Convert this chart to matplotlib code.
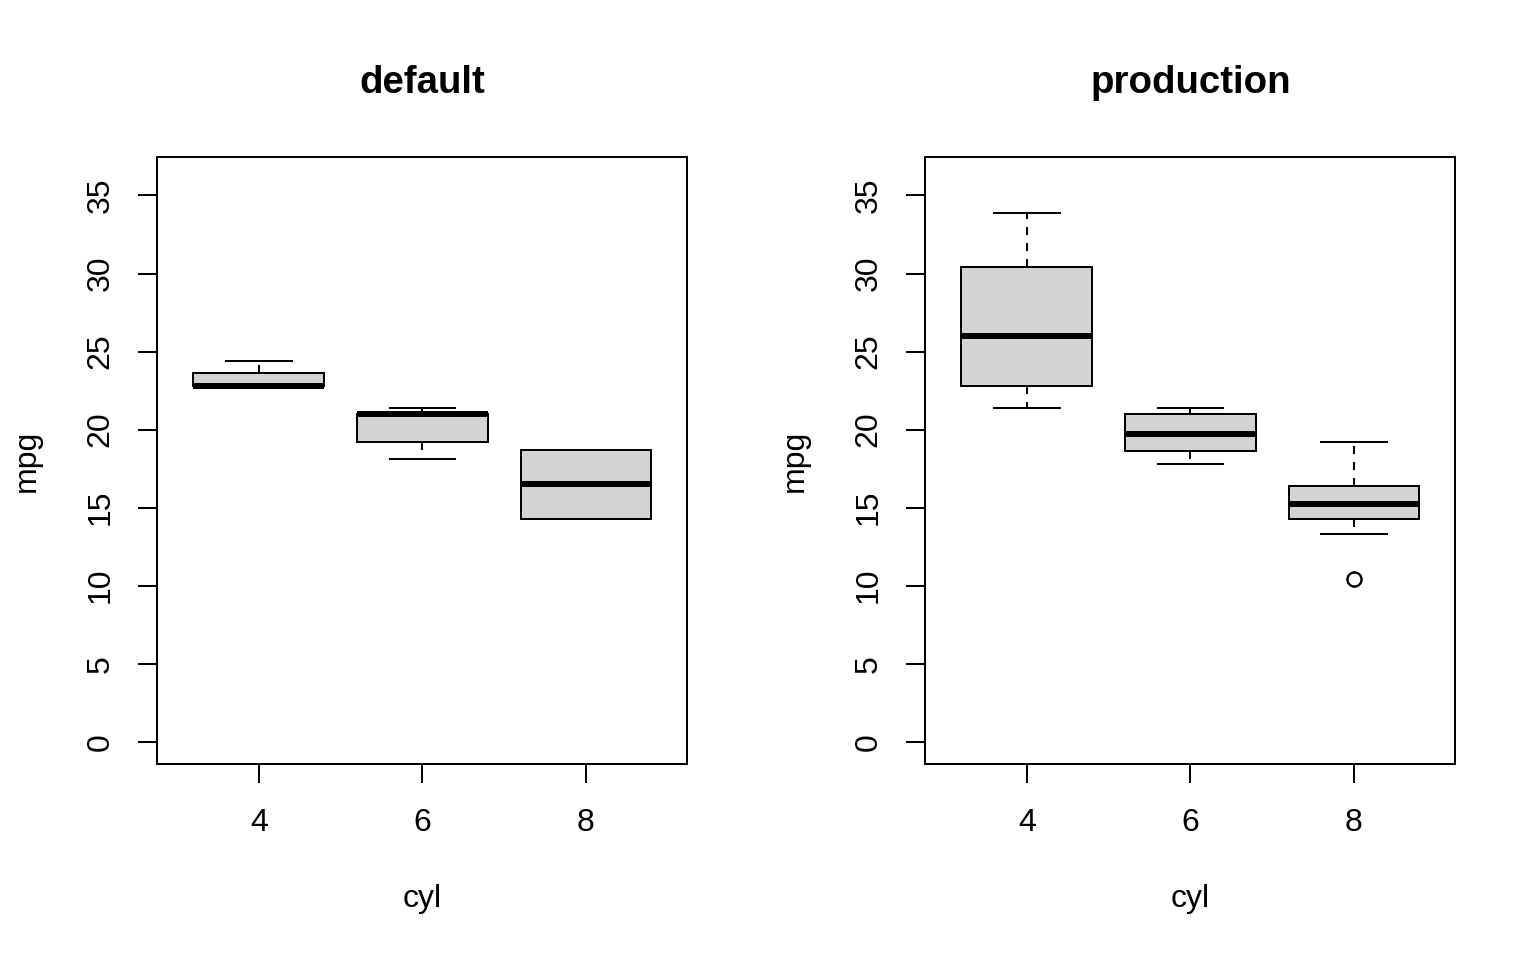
import matplotlib
matplotlib.use("Agg")
import matplotlib.pyplot as plt

plt.rcParams['font.family'] = ['Liberation Sans', 'DejaVu Sans']

# ---- data (five-number summaries) ----
cyl_labels = ['4', '6', '8']
positions = [1, 2, 3]
yticks = [0, 5, 10, 15, 20, 25, 30, 35]

default_whislo = [22.8, 18.1, 14.3]
default_q1 = [22.8, 19.2, 14.3]
default_med = [22.8, 21.0, 16.5]
default_q3 = [23.6, 21.0, 18.7]
default_whishi = [24.4, 21.4, 18.7]
default_fliers = [[], [], []]

prod_whislo = [21.4, 17.8, 13.3]
prod_q1 = [22.8, 18.65, 14.3]
prod_med = [26.0, 19.7, 15.2]
prod_q3 = [30.4, 21.0, 16.4]
prod_whishi = [33.9, 21.4, 19.2]
prod_fliers = [[], [], [10.4, 10.4]]

panel_titles = ['default', 'production']

# ---- figure ----
W, H, DPI = 1536, 960, 192
fig = plt.figure(figsize=(W / DPI, H / DPI), dpi=DPI)

LW = 0.75  # R lwd=1


def make_stats(lo, q1, med, q3, hi, fl):
    out = []
    for i in range(len(lo)):
        out.append(dict(whislo=lo[i], q1=q1[i], med=med[i], q3=q3[i],
                        whishi=hi[i], fliers=fl[i]))
    return out


panels = [
    make_stats(default_whislo, default_q1, default_med, default_q3, default_whishi, default_fliers),
    make_stats(prod_whislo, prod_q1, prod_med, prod_q3, prod_whishi, prod_fliers),
]

ax_left_px = [157.4, 925.4]
ax_w_px = 530.0
ax_top_px = 157.4
ax_bot_px = 764.2

for k, stats in enumerate(panels):
    ax = fig.add_axes([ax_left_px[k] / W, (H - ax_bot_px) / H,
                       ax_w_px / W, (ax_bot_px - ax_top_px) / H])
    ax.bxp(stats, positions=positions, widths=0.8, capwidths=0.4,
           patch_artist=True, showfliers=True,
           boxprops=dict(facecolor='#D3D3D3', edgecolor='black', linewidth=LW),
           whiskerprops=dict(color='black', linewidth=LW, linestyle=(0, (4, 4))),
           capprops=dict(color='black', linewidth=LW),
           medianprops=dict(color='black', linewidth=3 * LW, solid_capstyle='butt'),
           flierprops=dict(marker='o', markerfacecolor='none', markeredgecolor='black',
                           markersize=5.3, markeredgewidth=LW, linestyle='none'))
    ax.set_xlim(0.38, 3.62)
    ax.set_ylim(-1.44, 37.44)
    ax.set_xticks(positions)
    ax.set_xticklabels(cyl_labels)
    ax.set_yticks(yticks)
    ax.set_yticklabels([str(v) for v in yticks], rotation=90, va='center')
    ax.tick_params(axis='both', direction='out', length=7.2, width=LW,
                   labelsize=12, colors='black')
    ax.tick_params(axis='x', pad=9.3)
    ax.tick_params(axis='y', pad=8.5)
    for s in ax.spines.values():
        s.set_linewidth(LW)
        s.set_color('black')

    cx = ax_left_px[k] + ax_w_px / 2
    fig.text(cx / W, (H - 92.7) / H, panel_titles[k], ha='center', va='baseline',
             fontsize=14.4, fontweight='bold')
    fig.text(cx / W, (H - 907) / H, 'cyl', ha='center', va='baseline', fontsize=12)
    fig.text((ax_left_px[k] - 130.7) / W, (H - (ax_top_px + ax_bot_px) / 2) / H, 'mpg',
             ha='center', va='center', rotation=90, fontsize=12)

fig.savefig('out.png', dpi=DPI, facecolor='white')
